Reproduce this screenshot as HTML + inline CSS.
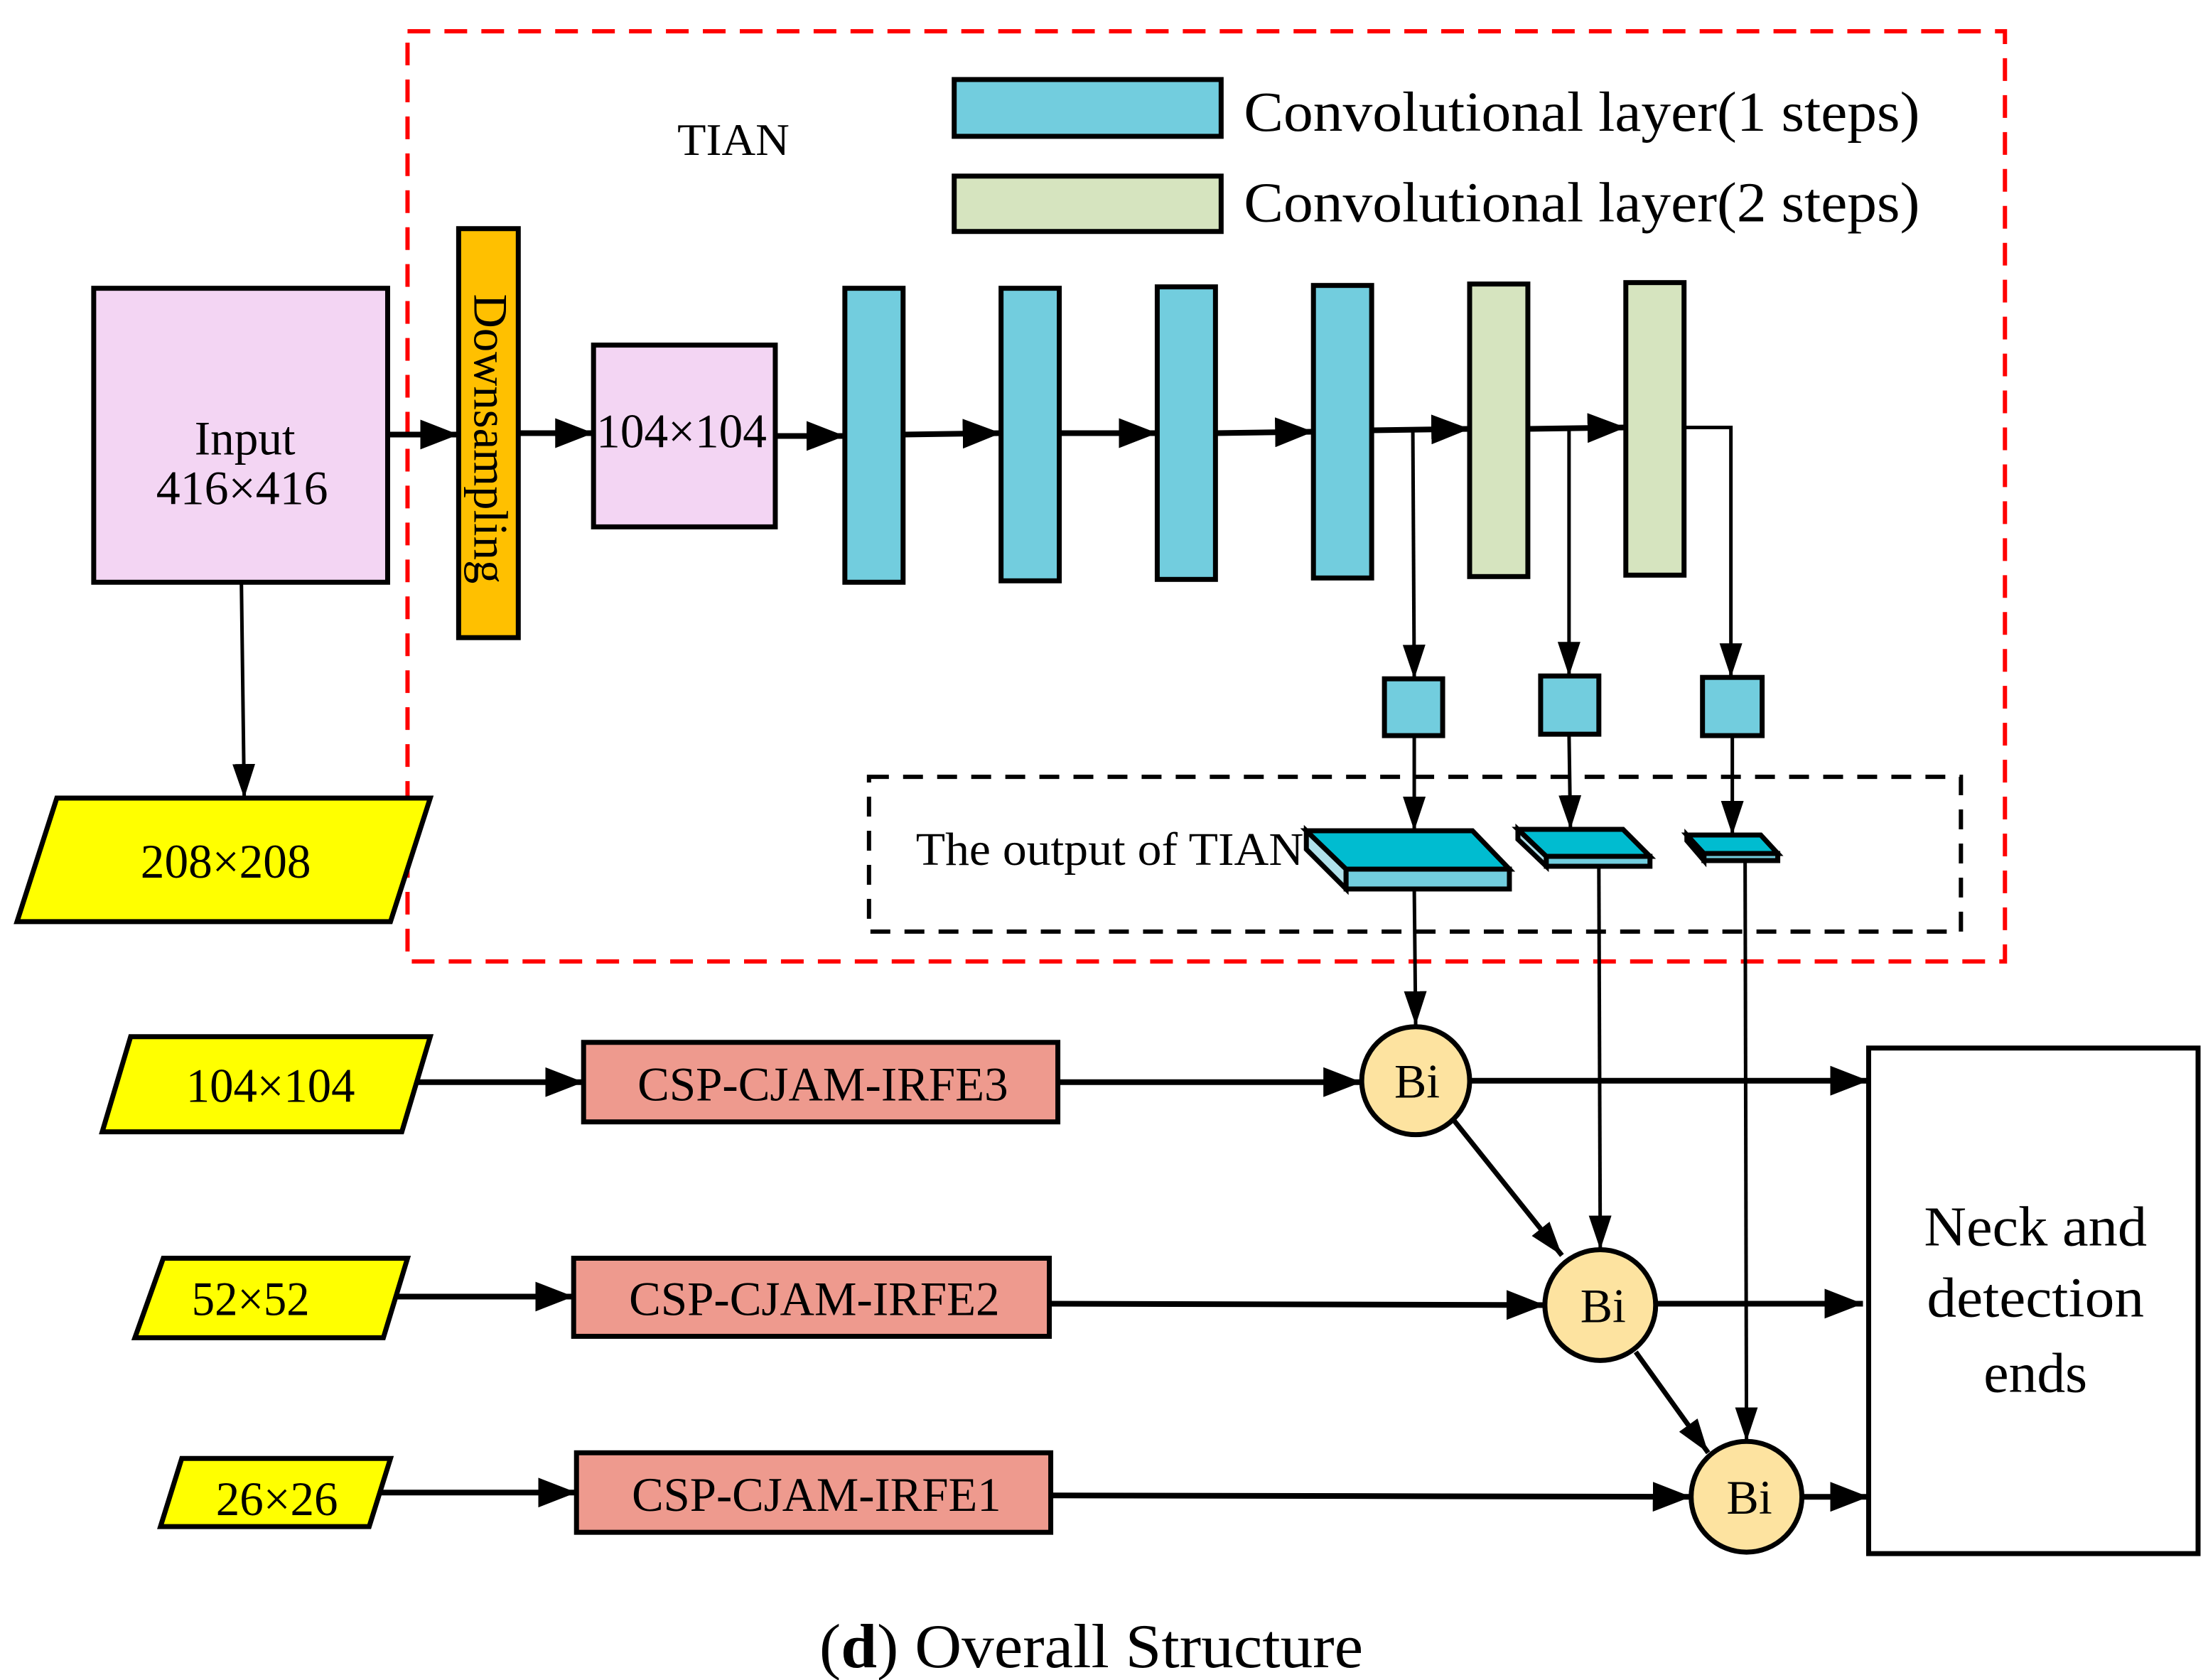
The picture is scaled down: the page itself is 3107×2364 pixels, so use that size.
<!DOCTYPE html>
<html><head><meta charset="utf-8"><style>html,body{margin:0;padding:0;background:#fff}svg{display:block}</style></head>
<body>
<svg width="3107" height="2364" viewBox="0 0 1555 1183" preserveAspectRatio="none" xmlns="http://www.w3.org/2000/svg" font-family="'Liberation Serif', serif">
<defs>
<marker id="a" markerWidth="27" markerHeight="21" refX="27" refY="10.5" orient="auto" markerUnits="userSpaceOnUse"><path d="M0,0 L27,10.5 L0,21 z" fill="#000"/></marker>
<marker id="b" markerWidth="24" markerHeight="16" refX="24" refY="8" orient="auto" markerUnits="userSpaceOnUse"><path d="M0,0 L24,8 L0,16 z" fill="#000"/></marker>
</defs>
<rect width="1555" height="1183" fill="#fff"/>
<rect x="287" y="22" width="1125" height="655" fill="none" stroke="#f00" stroke-width="3" stroke-dasharray="16,10"/>
<text x="477" y="109" font-size="32" textLength="79" lengthAdjust="spacingAndGlyphs">TIAN</text>
<rect x="672" y="56" width="188" height="40" fill="#72CDDE" stroke="#000" stroke-width="3.5"/>
<rect x="672" y="124" width="188" height="39" fill="#D6E4BF" stroke="#000" stroke-width="3.5"/>
<text x="876" y="92" font-size="40" textLength="476" lengthAdjust="spacingAndGlyphs">Convolutional layer(1 steps)</text>
<text x="876" y="156" font-size="40" textLength="476" lengthAdjust="spacingAndGlyphs">Convolutional layer(2 steps)</text>
<rect x="66" y="203" width="207" height="207" fill="#F3D5F3" stroke="#000" stroke-width="3.5"/>
<text x="137" y="320" font-size="34" textLength="71" lengthAdjust="spacingAndGlyphs">Input</text>
<text x="110" y="355" font-size="34" textLength="121" lengthAdjust="spacingAndGlyphs">416×416</text>
<rect x="323" y="161" width="42" height="288" fill="#FFC000" stroke="#000" stroke-width="3.5"/>
<text transform="translate(334,207) rotate(90)" font-size="34" textLength="204" lengthAdjust="spacingAndGlyphs">Downsampling</text>
<rect x="418" y="243" width="128" height="128" fill="#F3D5F3" stroke="#000" stroke-width="3.5"/>
<text x="420" y="315" font-size="34" textLength="120" lengthAdjust="spacingAndGlyphs">104×104</text>
<g stroke="#000" stroke-width="3.5">
<rect x="595" y="203" width="41" height="207" fill="#72CDDE"/>
<rect x="705" y="203" width="41" height="206" fill="#72CDDE"/>
<rect x="815" y="202" width="41" height="206" fill="#72CDDE"/>
<rect x="925" y="201" width="41" height="206" fill="#72CDDE"/>
<rect x="1035" y="200" width="41" height="206" fill="#D6E4BF"/>
<rect x="1145" y="199" width="41" height="206" fill="#D6E4BF"/>
<rect x="975" y="478" width="41" height="40" fill="#72CDDE"/>
<rect x="1085" y="476" width="41" height="41" fill="#72CDDE"/>
<rect x="1199" y="477" width="42" height="41" fill="#72CDDE"/>
</g>
<g stroke="#000" stroke-width="4" fill="none" marker-end="url(#a)">
<line x1="273" y1="306" x2="323" y2="306"/>
<line x1="365" y1="305" x2="418" y2="305"/>
<line x1="546" y1="307" x2="595" y2="307"/>
<line x1="636" y1="306" x2="705" y2="305"/>
<line x1="746" y1="305" x2="815" y2="305"/>
<line x1="856" y1="305" x2="925" y2="304"/>
<line x1="966" y1="303" x2="1035" y2="302"/>
<line x1="1076" y1="302" x2="1145" y2="301"/>
</g>
<g stroke="#000" stroke-width="2.5" fill="none" marker-end="url(#b)">
<line x1="995" y1="303" x2="996" y2="478"/>
<line x1="1105" y1="302" x2="1105" y2="476"/>
<polyline points="1186,301 1219,301 1219,477"/>
<line x1="996" y1="518" x2="996" y2="585"/>
<line x1="1105" y1="517" x2="1106" y2="584"/>
<line x1="1220" y1="518" x2="1220" y2="588"/>
<line x1="170" y1="410" x2="172" y2="562"/>
<line x1="996" y1="626" x2="997" y2="722"/>
<line x1="1126" y1="610" x2="1127" y2="880"/>
<line x1="1229" y1="606" x2="1230" y2="1015"/>
</g>
<g stroke="#000" stroke-width="3.5" fill="none" marker-end="url(#b)">
<line x1="1024" y1="789" x2="1100" y2="884"/>
<line x1="1152" y1="952" x2="1203" y2="1023"/>
</g>
<rect x="612" y="547" width="769" height="109" fill="none" stroke="#000" stroke-width="3" stroke-dasharray="14,10"/>
<text x="645" y="609" font-size="33" textLength="273" lengthAdjust="spacingAndGlyphs">The output of TIAN</text>
<g stroke="#000" stroke-width="3.5" stroke-linejoin="miter">
<polygon points="920,585 920,598 948,626 948,612" fill="#B0E0EA"/>
<rect x="948" y="612" width="115" height="14" fill="#72CDDE"/>
<polygon points="920,585 1037,585 1063,612 948,612" fill="#00BCD0"/>
<polygon points="1069,584 1069,591 1089,610 1089,603" fill="#B0E0EA"/>
<rect x="1089" y="603" width="73" height="7" fill="#72CDDE"/>
<polygon points="1069,584 1143,584 1162,603 1089,603" fill="#00BCD0"/>
<rect x="1200" y="601" width="52" height="5" fill="#72CDDE"/>
<polygon points="1188,588 1188,592 1200,606 1200,601" fill="#B0E0EA"/>
<polygon points="1188,588 1240,588 1252,601 1200,601" fill="#00BCD0"/>
</g>
<g stroke="#000" stroke-width="3.5" fill="#FFFF00">
<polygon points="40,562 303,562 275,649 12,649"/>
<polygon points="92,730 303,730 283,797 72,797"/>
<polygon points="115,886 287,886 270,942 95,942"/>
<polygon points="128,1027 275,1027 260,1075 113,1075"/>
</g>
<g font-size="34">
<text x="99" y="618" textLength="120" lengthAdjust="spacingAndGlyphs">208×208</text>
<text x="131" y="776" textLength="119" lengthAdjust="spacingAndGlyphs">104×104</text>
<text x="135" y="926" textLength="83" lengthAdjust="spacingAndGlyphs">52×52</text>
<text x="152" y="1067" textLength="86" lengthAdjust="spacingAndGlyphs">26×26</text>
</g>
<g stroke="#000" stroke-width="3.5" fill="#EE9A8E">
<rect x="411" y="734" width="334" height="56"/>
<rect x="404" y="886" width="335" height="55"/>
<rect x="406" y="1023" width="334" height="56"/>
</g>
<g font-size="34">
<text x="449" y="775" textLength="261" lengthAdjust="spacingAndGlyphs">CSP-CJAM-IRFE3</text>
<text x="443" y="926" textLength="261" lengthAdjust="spacingAndGlyphs">CSP-CJAM-IRFE2</text>
<text x="445" y="1064" textLength="260" lengthAdjust="spacingAndGlyphs">CSP-CJAM-IRFE1</text>
</g>
<g stroke="#000" stroke-width="4" fill="none" marker-end="url(#a)">
<line x1="293" y1="762" x2="411" y2="762"/>
<line x1="278" y1="913" x2="404" y2="913"/>
<line x1="268" y1="1051" x2="406" y2="1051"/>
<line x1="745" y1="762" x2="959" y2="762"/>
<line x1="739" y1="918" x2="1088" y2="919"/>
<line x1="740" y1="1053" x2="1191" y2="1054"/>
<line x1="1035" y1="761" x2="1316" y2="761"/>
<line x1="1166" y1="918" x2="1312" y2="918"/>
<line x1="1269" y1="1054" x2="1316" y2="1054"/>
</g>
<g stroke="#000" stroke-width="3.5" fill="#FDE3A0">
<circle cx="997" cy="761" r="38"/>
<circle cx="1127" cy="919" r="39"/>
<circle cx="1230" cy="1054" r="39"/>
</g>
<g font-size="34" text-anchor="middle">
<text x="998" y="773">Bi</text>
<text x="1129" y="931">Bi</text>
<text x="1232" y="1066">Bi</text>
</g>
<rect x="1316" y="738" width="232" height="356" fill="#fff" stroke="#000" stroke-width="3.5"/>
<g font-size="40">
<text x="1355" y="877" textLength="157" lengthAdjust="spacingAndGlyphs">Neck and</text>
<text x="1357" y="927" textLength="153" lengthAdjust="spacingAndGlyphs">detection</text>
<text x="1397" y="980" textLength="73" lengthAdjust="spacingAndGlyphs">ends</text>
</g>
<text x="577" y="1174" font-size="44" textLength="383" lengthAdjust="spacingAndGlyphs">(<tspan font-weight="bold">d</tspan>) Overall Structure</text>
</svg>
</body></html>
